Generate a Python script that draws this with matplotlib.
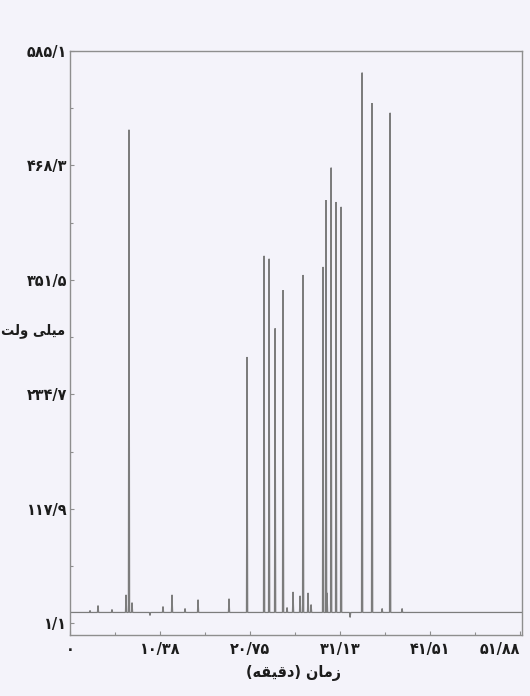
import numpy as np
import matplotlib
matplotlib.use('Agg')
import matplotlib.pyplot as plt

# ---------------- data ----------------
peak_times = [6.80, 20.41, 22.37, 22.95, 23.64, 24.56, 26.87, 29.17, 29.52,
              30.10, 30.67, 31.25, 33.67, 34.82, 36.90]
peak_heights = [504.7, 272.8, 376.0, 373.0, 302.0, 341.0, 356.5, 364.7, 433.0,
                466.0, 431.0, 426.0, 563.0, 532.0, 522.0]

small_times = [2.31, 3.23, 4.84, 6.46, 7.15, 9.22, 10.72, 11.76, 13.26, 14.76,
               18.33, 25.02, 25.71, 26.52, 27.44, 27.79, 29.63, 32.29, 35.98, 38.28]
small_heights = [14, 19, 15, 30, 22, 9, 18, 30, 16, 25,
                 26, 17, 33, 29, 32, 20, 32, 7, 16, 16]

baseline_level = 12.0
run_end = 52.1

ytick_values = [1.1, 117.9, 234.7, 351.5, 468.3, 585.1]
ytick_labels = ['۱/۱', '۱۱۷/۹', '۲۳۴/۷', '۳۵۱/۵', '۴۶۸/۳', '۵۸۵/۱']
xtick_values = [0, 10.38, 20.75, 31.13, 41.51, 51.88]
xtick_labels = ['۰', '۱۰/۳۸', '۲۰/۷۵', '۳۱/۱۳', '۴۱/۵۱', '۵۱/۸۸']
y_label = 'میلی ولت'
x_label = 'زمان (دقیقه)'

# ---------------- minimal Persian shaping (matplotlib has no CTL) ----------------
FORMS = {
    '\u0645': ('\uFEE1', '\uFEE2', '\uFEE3', '\uFEE4'),  # meem
    '\u06CC': ('\uFEEF', '\uFEF0', '\uFEF3', '\uFEF4'),  # farsi yeh
    '\u064A': ('\uFEEF', '\uFEF0', '\uFEF3', '\uFEF4'),  # yeh
    '\u0644': ('\uFEDD', '\uFEDE', '\uFEDF', '\uFEE0'),  # lam
    '\u0648': ('\uFEED', '\uFEEE', None, None),          # waw
    '\u062A': ('\uFE95', '\uFE96', '\uFE97', '\uFE98'),  # teh
    '\u0632': ('\uFEAF', '\uFEB0', None, None),          # zain
    '\u0627': ('\uFE8D', '\uFE8E', None, None),          # alef
    '\u0646': ('\uFEE5', '\uFEE6', '\uFEE7', '\uFEE8'),  # noon
    '\u062F': ('\uFEA9', '\uFEAA', None, None),          # dal
    '\u0642': ('\uFED5', '\uFED6', '\uFED7', '\uFED8'),  # qaf
    '\u0647': ('\uFEE9', '\uFEEA', '\uFEEB', '\uFEEC'),  # heh
}


def shape_rtl(text):
    out = []
    n = len(text)
    for i, c in enumerate(text):
        if c not in FORMS:
            out.append(c)
            continue
        f = FORMS[c]
        prev = text[i - 1] if i > 0 else None
        nxt = text[i + 1] if i < n - 1 else None
        jp = prev in FORMS and FORMS[prev][2] is not None
        jn = f[2] is not None and nxt in FORMS
        if jp and jn:
            out.append(f[3])
        elif jp:
            out.append(f[1])
        elif jn:
            out.append(f[2])
        else:
            out.append(f[0])
    vis = ''.join(reversed(out))
    return vis.translate(str.maketrans('()', ')('))


# ---------------- build trace from peak list ----------------
hw = 0.07
events = sorted(list(zip(peak_times, peak_heights)) + list(zip(small_times, small_heights)))
tx = [0.0]
ty = [baseline_level]
for t, h in events:
    tx += [t - hw, t, t + hw]
    ty += [baseline_level, h, baseline_level]
tx.append(run_end)
ty.append(baseline_level)

# ---------------- figure ----------------
bg = '#f4f3fa'
txt = '#1c1c1c'
plt.rcParams['font.family'] = ['DejaVu Sans']
fig = plt.figure(figsize=(5.3, 6.96), dpi=100, facecolor=bg)
ax = fig.add_axes([70 / 530, 61 / 696, 452 / 530, 584 / 696], facecolor=bg)

ax.plot(tx, ty, color='#7c7c7c', lw=0.9, solid_joinstyle='miter')

ax.set_xlim(0, run_end)
ax.set_ylim(-11, 585.1)

for s in ax.spines.values():
    s.set_color('#8e8e8e')
    s.set_linewidth(1.0)

tfont = dict(fontsize=11.5, fontweight='bold', color=txt, fontstretch='condensed')
ax.set_yticks(ytick_values)
ax.set_yticklabels(ytick_labels, **tfont)
ax.set_xticks(xtick_values)
ax.set_xticklabels(xtick_labels, **tfont)
ax.set_xticks([5.19, 15.57, 25.94, 36.32, 46.70], minor=True)
ax.set_yticks([59.5, 176.3, 293.1, 409.9, 526.7], minor=True)
ax.tick_params(axis='both', which='major', direction='in', length=3, width=0.8,
               color='#8e8e8e', pad=2)
ax.tick_params(axis='both', which='minor', direction='in', length=2, width=0.8,
               color='#8e8e8e')
ax.tick_params(axis='x', which='major', pad=5)
ax.get_xticklabels()[-1].set_horizontalalignment('right')

fig.text(0.5 * (70 + 522) / 530 - 0.005, 1 - 673 / 696, shape_rtl(x_label),
         ha='center', va='center', **tfont)
fig.text(1 / 530, 1 - 330 / 696, shape_rtl(y_label), ha='left', va='center',
         fontsize=10.5, fontweight='bold', color=txt, fontstretch='condensed')

fig.savefig('out.png', dpi=100, facecolor=bg)
